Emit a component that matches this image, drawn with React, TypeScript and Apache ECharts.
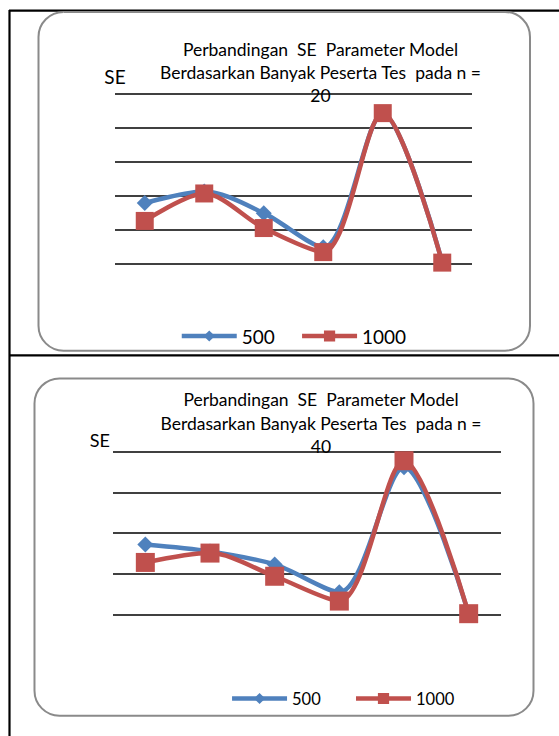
import React, { useEffect, useRef } from 'react';
import * as echarts from 'echarts';

// Parameters (category axis, labels not shown in the reference)
const categories = ['P1', 'P2', 'P3', 'P4', 'P5', 'P6'];
const seriesNames = ['500', '1000'];

// Chart 1: n = 20
const se500N20 = [1.78, 2.12, 1.48, 0.47, 4.42, 0.03];
const se1000N20 = [1.25, 2.06, 1.04, 0.33, 4.43, 0.02];
// Chart 2: n = 40
const se500N40 = [1.72, 1.55, 1.23, 0.55, 3.62, 0.02];
const se1000N40 = [1.28, 1.51, 0.94, 0.33, 3.78, 0.02];

const titleN20 = ['Perbandingan  SE  Parameter Model', 'Berdasarkan Banyak Peserta Tes  pada n =', '20'];
const titleN40 = ['Perbandingan  SE  Parameter Model', 'Berdasarkan Banyak Peserta Tes  pada n =', '40'];
const yAxisName = 'SE';

const FONT = 'Lato, Carlito, Calibri, sans-serif';
const BLUE = '#4F81BD';
const RED = '#C0504D';

export default function App() {
  const ref = useRef<HTMLDivElement>(null);

  useEffect(() => {
    if (!ref.current) return;
    const chart = echarts.init(ref.current, undefined, { renderer: 'svg' });

    const lineSeries = (name: string, data: number[], idx: number, color: string, symbol: string, size: number) => ({
      name,
      type: 'line',
      xAxisIndex: idx,
      yAxisIndex: idx,
      data,
      smooth: 0.3,
      symbol,
      symbolSize: size,
      lineStyle: { color, width: 4.5 },
      itemStyle: { color },
      emphasis: { disabled: true },
    });

    const titleText = (lines: string[], cx: number, y1: number) => ({
      type: 'text',
      x: cx,
      y: y1 - 11.7,
      style: {
        text: lines.join('\n'),
        align: 'center',
        verticalAlign: 'top',
        lineHeight: 23.3,
        fontSize: 17.5,
        fontFamily: FONT,
        fill: '#000',
      },
    });

    chart.setOption({
      animation: false,
      grid: [
        { left: 115, top: 93.8, width: 357, height: 169.5 },
        { left: 113, top: 451.8, width: 388, height: 162.7 },
      ],
      xAxis: [0, 1].map((i) => ({
        type: 'category',
        gridIndex: i,
        data: categories,
        boundaryGap: true,
        axisLine: { show: false },
        axisTick: { show: false },
        axisLabel: { show: false },
      })),
      yAxis: [
        { max: 5 },
        { max: 4 },
      ].map((o, i) => ({
        type: 'value',
        gridIndex: i,
        min: 0,
        max: o.max,
        interval: 1,
        axisLine: { show: false },
        axisTick: { show: false },
        axisLabel: { show: false },
        splitLine: { lineStyle: { color: '#000', width: 1.6 } },
      })),
      legend: [
        {
          data: seriesNames,
          left: 179.5,
          top: 326.5,
          padding: 0,
          itemWidth: 55,
          itemHeight: 14,
          itemGap: 25,
          textStyle: { fontSize: 19, fontFamily: FONT, color: '#000' },
          lineStyle: { width: 4.5 },
          selectedMode: false,
        },
        {
          data: seriesNames,
          left: 229.8,
          top: 690,
          padding: 0,
          itemWidth: 55,
          itemHeight: 14,
          itemGap: 33,
          textStyle: { fontSize: 16.5, fontFamily: FONT, color: '#000' },
          lineStyle: { width: 4.5 },
          selectedMode: false,
        },
      ],
      series: [
        lineSeries(seriesNames[0], se500N20, 0, BLUE, 'diamond', 16),
        lineSeries(seriesNames[1], se1000N20, 0, RED, 'rect', 18),
        lineSeries(seriesNames[0], se500N40, 1, BLUE, 'diamond', 16),
        lineSeries(seriesNames[1], se1000N40, 1, RED, 'rect', 19),
      ],
      graphic: [
        // table borders
        { type: 'line', shape: { x1: 9, y1: 10.7, x2: 559, y2: 10.7 }, style: { stroke: '#000', lineWidth: 2.2 } },
        { type: 'line', shape: { x1: 9.5, y1: 10, x2: 9.5, y2: 736 }, style: { stroke: '#000', lineWidth: 2.2 } },
        { type: 'line', shape: { x1: 9, y1: 355.4, x2: 559, y2: 355.4 }, style: { stroke: '#000', lineWidth: 2.2 } },
        // chart frames
        { type: 'rect', shape: { x: 38.5, y: 11.9, width: 491.5, height: 338.8, r: 25 }, style: { fill: 'none', stroke: '#8a8a8a', lineWidth: 2 } },
        { type: 'rect', shape: { x: 34.5, y: 378.5, width: 499, height: 337.2, r: 25 }, style: { fill: 'none', stroke: '#8a8a8a', lineWidth: 2 } },
        // titles
        titleText(titleN20, 320.5, 49.3),
        titleText(titleN40, 321, 400),
        // axis names
        { type: 'text', x: 115, y: 76.7, style: { text: yAxisName, align: 'center', verticalAlign: 'middle', fontSize: 19, fontFamily: FONT, fill: '#000' } },
        { type: 'text', x: 99.8, y: 440, style: { text: yAxisName, align: 'center', verticalAlign: 'middle', fontSize: 18, fontFamily: FONT, fill: '#000' } },
      ],
    });

    return () => chart.dispose();
  }, []);

  return (
    <div
      ref={ref}
      style={{ position: 'absolute', left: 0, top: 0, width: 559, height: 736, background: '#fff' }}
    />
  );
}
